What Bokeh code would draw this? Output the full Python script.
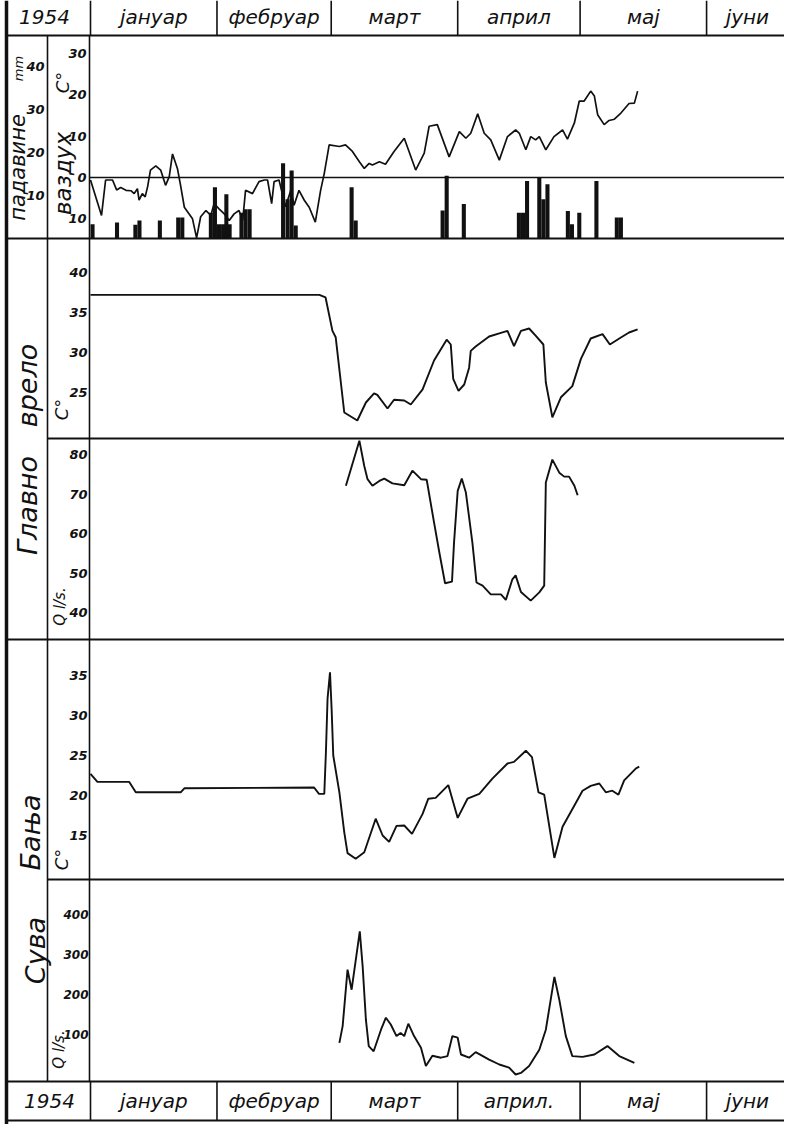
import math
from bokeh.plotting import figure
from bokeh.models import Range1d
from bokeh.core.properties import value
from bokeh.embed import file_html
from bokeh.resources import INLINE

# ---------------- data (day of year 1954, 0 = 1 January) ----------------
year_label = "1954"
month_names_top = ["јануар", "фебруар", "март", "април", "мај", "јуни"]
month_names_bottom = ["јануар", "фебруар", "март", "април.", "мај", "јуни"]
month_start_day = [0, 31, 59, 90, 120, 151]
month_length = [31, 28, 31, 30, 31, 30]

# air temperature (°C)
air_day = [0, 2.7, 3.7, 5.4, 6.4, 7.4, 8.7, 9.9, 10.7, 11.5, 11.9, 12.7, 13.4, 14, 14.7, 16, 17.2, 18.4, 19.3, 20.1,
           21.3, 22, 23, 25, 26, 27, 28.3, 29.5, 30.3, 31.5, 32.8, 34, 35.2, 36.4, 37.3, 38, 39.7, 41.3, 42.6, 43.4,
           44.4, 45, 46.2, 47.8, 49.1, 49.9, 51.1, 52.4, 53.6, 55.1, 56.4, 57.3, 58.5, 61, 62.5, 64.2, 65.9, 67.1, 68.3, 69.1,
           70.8, 72.3, 74.4, 76.9, 79.7, 81.8, 83, 85, 87.9, 90.4, 92, 93.2, 94.9, 96.5, 98.1, 100.2, 102.2, 104.2, 105.1, 106.7,
           107.9, 109.1, 110, 111.6, 113.6, 115.7, 116.9, 118.6, 119.8, 121, 122.6, 123.5, 124.3, 125.9, 127.1, 128.4, 130, 132, 133.3, 134.1]
air_temp = [-0.6, -9.2, -0.6, -0.6, -3.0, -2.4, -3.1, -3.2, -3.9, -2.7, -5.5, -3.9, -4.7, -2.2, 1.8, 2.8, 1.8, -1.9, 0.2, 5.7,
            2.2, -1.5, -7.2, -10, -14.6, -9.5, -8, -9.2, -6.3, -7.6, -8.8, -10.4, -8.8, -8, -10.4, -3.1, -3.9, -1, -0.6, -0.6,
            -6.3, -1, -0.6, -7.1, -3.1, -6.7, -3.1, -5.5, -7.2, -10.8, -3.1, 1.0, 7.9, 7.5, 7.9, 6.3, 3.8, 2.2, 3.4, 3.0,
            3.8, 3.2, 6.3, 9.5, 1.8, 5.9, 12.4, 12.8, 5.0, 11.1, 9.5, 10.7, 15.4, 10.7, 9.1, 4.2, 9.9, 11.5, 10.7, 6.7,
            9.9, 9.1, 9.9, 6.7, 9.9, 11.5, 9.3, 13.2, 18.5, 18.5, 20.9, 19.7, 15.2, 12.8, 13.8, 14.1, 15.6, 17.9, 18, 20.9]

# precipitation (mm)
rain_day = [0.5, 6.5, 11, 12, 17, 21.5, 22.5, 29.5, 30.5, 31.5, 32.5, 33.3, 34.1, 37, 38, 39, 47.2, 48.3, 49.3, 50.3,
            64, 65, 86.3, 87.3, 91.5, 105, 106, 107, 110, 111, 112, 117, 118, 119.8, 124, 129, 130]
rain_mm = [3.3, 3.7, 3.2, 4.2, 4.2, 4.9, 4.9, 6.0, 11.9, 3.3, 3.3, 10.3, 3.3, 6.0, 6.8, 6.8, 17.5, 9.1, 15.8, 3.0,
           11.9, 4.2, 6.5, 14.6, 8.0, 6.0, 6.0, 13.4, 14.2, 9.1, 12.6, 6.4, 3.3, 6.0, 13.4, 4.9, 4.9]

# Главно врело: water temperature (°C)
gv_t_day = [0, 56.1, 57.6, 59.3, 60.1, 62.2, 65.4, 67.5, 69.5, 70.3, 72.8, 74.4, 76.9, 78.5, 81.4, 84.2, 87.3, 88.3, 88.9, 90.2,
            91.6, 92.8, 93.2, 94.4, 97.7, 100.2, 102.2, 103.8, 105.5, 107.5, 109.1, 111, 111.6, 113.2, 115.3, 118.1, 120.2,
            122.6, 125.5, 127.3, 129.6, 132, 134.1]
gv_t = [37.2, 37.2, 36.9, 32.7, 31.9, 22.5, 21.5, 23.75, 24.9, 24.7, 23, 24.1, 24, 23.5, 25.4, 29, 31.6, 31, 26.7, 25.2,
        26.0, 28.1, 30.2, 30.75, 32, 32.4, 32.7, 30.8, 32.7, 33, 32.1, 31, 26.25, 21.9, 24.4, 25.8, 29.2,
        31.75, 32.3, 31, 31.75, 32.5, 32.9]

# Главно врело: discharge (l/s)
gv_q_day = [62.6, 65.9, 67.1, 67.9, 69.1, 70.8, 72, 74, 76.9, 78.9, 81, 82.4, 84.2, 85.5, 86.9, 88.6, 89.1, 90, 91, 92,
            93.6, 94.6, 96.1, 98.1, 100.6, 101.8, 103.4, 104.2, 105.5, 107.9, 110, 111.2, 111.6, 113.2, 114.9, 116.1,
            117.3, 118.6, 119.4]
gv_q = [72.1, 83.5, 77.1, 73.75, 72.1, 73.3, 73.9, 72.7, 72.2, 75.9, 73.75, 73.6, 62.8, 55.2, 47.4, 47.8, 57.7, 70.8, 73.9, 70.4,
        57.7, 47.6, 46.8, 44.6, 44.6, 43.2, 48.4, 49.4, 45.2, 43, 45.1, 46.8, 72.9, 78.7, 75.4, 74.4,
        74.4, 72.1, 69.7]

# Сува Бања: water temperature (°C)
sb_t_day = [0, 1.7, 9.5, 11.1, 22.1, 23, 54.8, 56, 57.3, 57.7, 58.1, 58.7, 59.1, 59.5, 61, 62.2, 63, 65, 67.1, 69.9,
            71.6, 73.2, 75, 76.9, 78.8, 81.4, 82.8, 84.6, 87.7, 90, 92.4, 95.3, 98.5, 102.2, 103.8, 106.7, 108.2, 109.8,
            111.2, 113.7, 115.7, 118.6, 120.6, 122.6, 124.7, 126.3, 127.9, 129.4, 130.8, 133.7, 134.5]
sb_t = [22.7, 21.7, 21.7, 20.4, 20.4, 20.9, 21.0, 20.2, 20.2, 25.4, 32.1, 35.4, 30.8, 25, 20.4, 15.4, 12.8, 12.1, 12.9, 17.1,
        15, 14.2, 16.2, 16.25, 15.2, 17.7, 19.6, 19.7, 21.3, 17.2, 19.6, 20.2, 22.1, 24, 24.2, 25.6, 24.8, 20.4,
        20.1, 12.2, 16.1, 18.75, 20.6, 21.2, 21.5, 20.4, 20.6, 20.1, 21.9, 23.4, 23.6]

# Сува Бања: discharge (l/s)
sb_q_day = [61, 61.8, 63, 64, 66, 66.7, 67.5, 68.2, 69.4, 71.2, 72.4, 73.6, 75, 76, 76.9, 77.9, 79.3, 81, 82.2, 83.8,
            85.9, 87.5, 88.7, 90, 90.8, 92.8, 94.4, 97.7, 100.2, 102.6, 104.2, 105.5, 107.5, 110, 111.6, 113.7, 114.9,
            116.5, 118.1, 120.6, 123.5, 126.7, 129.6, 133.3]
sb_q = [79, 121, 262, 212, 358, 271, 137, 71, 58, 112, 142, 125, 96, 104, 96, 127, 96, 67, 21, 47,
        42, 46, 96, 92, 50, 42, 56, 37, 25, 17, 0, 4, 21, 62, 112, 244, 187,
        96, 46, 44, 50, 71, 46, 29]

# tick values and labels
air_ticks = [30, 20, 10, 0, -10]
air_tick_labels = ["30", "20", "10", "0", "10"]
rain_ticks = [40, 30, 20, 10]
gv_t_ticks = [40, 35, 30, 25]
gv_q_ticks = [80, 70, 60, 50, 40]
sb_t_ticks = [35, 30, 25, 20, 15]
sb_q_ticks = [400, 300, 200, 100]

# ---------------- layout (page pixels) ----------------
W, H = 784, 1124
LEFT, TOP = 8, 8
X_DAY0, PX_PER_DAY = 98.0, 4.08
X_OUT, X_MID, X_FRAME, X_END = 14, 55, 97, 792
Y_HEAD, Y_A, Y_B, Y_C, Y_D, Y_FOOT, Y_BOT = 43, 246, 446, 647, 887, 1089, 1128


def cal(v1, y1, v2, y2):
    k = (y2 - y1) / (v2 - v1)
    return Range1d(start=v1 + (TOP + H - y1) / k, end=v1 + (TOP - y1) / k)


p = figure(width=W, height=H, output_backend="svg", toolbar_location=None,
           x_range=Range1d((LEFT - X_DAY0) / PX_PER_DAY, (LEFT + W - X_DAY0) / PX_PER_DAY),
           y_range=Range1d(TOP + H, TOP),
           x_axis_location=None, y_axis_location=None, min_border=0,
           outline_line_color=None, background_fill_color="white", border_fill_color="white")
p.xgrid.visible = False
p.ygrid.visible = False

p.extra_x_ranges = {"px": Range1d(LEFT, LEFT + W)}
p.extra_y_ranges = {
    "air": cal(0, 185, 30, 61),
    "rain": cal(0, 246, 40, 74),
    "gvt": cal(40, 280, 25, 400),
    "gvq": cal(80, 462, 40, 620),
    "sbt": cal(35, 683, 15, 843),
    "sbq": cal(400, 922, 100, 1042),
}

INK = "#111111"
FONT = value("DejaVu Sans")
day_frame = (X_FRAME - X_DAY0) / PX_PER_DAY
day_end = (X_END + 5 - X_DAY0) / PX_PER_DAY

# ---- table grid ----
p.segment(x0=[X_OUT], y0=[TOP], x1=[X_OUT], y1=[Y_BOT + 4], x_range_name="px", line_color=INK, line_width=3.5)
p.segment(x0=[X_MID, X_FRAME], y0=[Y_HEAD, Y_HEAD], x1=[X_MID, X_FRAME], y1=[Y_FOOT, Y_FOOT],
          x_range_name="px", line_color=INK, line_width=1.6)
hx0 = [X_OUT, X_OUT, X_MID, X_OUT, X_MID, X_OUT, X_OUT]
hy = [Y_HEAD, Y_A, Y_B, Y_C, Y_D, Y_FOOT, Y_BOT]
p.segment(x0=hx0, y0=hy, x1=[X_END] * len(hy), y1=hy, x_range_name="px", line_color=INK, line_width=1.8)

# month separators in header and footer
p.segment(x0=month_start_day, y0=[TOP] * 6, x1=month_start_day, y1=[Y_HEAD] * 6, line_color=INK, line_width=1.6)
p.segment(x0=month_start_day, y0=[Y_FOOT] * 6, x1=month_start_day, y1=[Y_BOT] * 6, line_color=INK, line_width=1.6)

label_day = [s + l / 2 for s, l in zip(month_start_day, month_length)]
label_day[-1] = month_start_day[-1] + 10
txt = dict(text_font=FONT, text_font_style="italic", text_color=INK, text_baseline="middle", text_align="center")
p.text(x=label_day, y=[24] * 6, text=month_names_top, text_font_size="20px", **txt)
p.text(x=label_day, y=[Y_FOOT + 19] * 6, text=month_names_bottom, text_font_size="20px", **txt)
p.text(x=[52, 57], y=[24, Y_FOOT + 19], text=[year_label, year_label], x_range_name="px",
       text_font_size="20px", **txt)

# ---- rotated row labels ----
rot = dict(x_range_name="px", angle=math.pi / 2, **txt)
p.text(x=[25], y=[175], text=["падавине"], text_font_size="21px", **rot)
p.text(x=[26], y=[76], text=["mm"], text_font_size="13px", **rot)
p.text(x=[70], y=[181], text=["ваздух"], text_font_size="23px", **rot)
p.text(x=[70, 69, 69], y=[90, 417, 867], text=["C°", "C°", "C°"], text_font_size="18px", **rot)
p.text(x=[67, 66], y=[614, 1057], text=["Q l/s.", "Q l/s."], text_font_size="15px", **rot)
p.text(x=[35, 35], y=[393, 513], text=["врело", "Главно"], text_font_size="27px", **rot)
p.text(x=[38, 43], y=[840, 958], text=["Бања", "Сува"], text_font_size="27px", **rot)

# ---- tick labels ----
tk = dict(text_font=FONT, text_font_style="bold italic", text_color=INK, text_baseline="middle",
          text_align="right", text_font_size="13px", x_range_name="px")
p.text(x=[94] * len(air_ticks), y=air_ticks, text=air_tick_labels, y_range_name="air", **tk)
p.text(x=[52] * len(rain_ticks), y=rain_ticks, text=[str(v) for v in rain_ticks], y_range_name="rain", **tk)
p.text(x=[95] * len(gv_t_ticks), y=gv_t_ticks, text=[str(v) for v in gv_t_ticks], y_range_name="gvt", **tk)
p.text(x=[95] * len(gv_q_ticks), y=gv_q_ticks, text=[str(v) for v in gv_q_ticks], y_range_name="gvq", **tk)
p.text(x=[95] * len(sb_t_ticks), y=sb_t_ticks, text=[str(v) for v in sb_t_ticks], y_range_name="sbt", **tk)
p.text(x=[96] * len(sb_q_ticks), y=sb_q_ticks, text=[str(v) for v in sb_q_ticks], y_range_name="sbq",
       **dict(tk, text_font_size="12px"))

# ---- data ----
p.segment(x0=[day_frame], y0=[0], x1=[day_end], y1=[0], y_range_name="air", line_color=INK, line_width=1.4)
p.vbar(x=rain_day, top=rain_mm, bottom=0, width=1.0, y_range_name="rain", fill_color=INK, line_color=None)
p.line(air_day, air_temp, y_range_name="air", line_color=INK, line_width=1.7)
p.line(gv_t_day, gv_t, y_range_name="gvt", line_color=INK, line_width=1.9)
p.line(gv_q_day, gv_q, y_range_name="gvq", line_color=INK, line_width=1.9)
p.line(sb_t_day, sb_t, y_range_name="sbt", line_color=INK, line_width=1.9)
p.line(sb_q_day, sb_q, y_range_name="sbq", line_color=INK, line_width=1.9)

open("out.html", "w").write(file_html(p, INLINE))
